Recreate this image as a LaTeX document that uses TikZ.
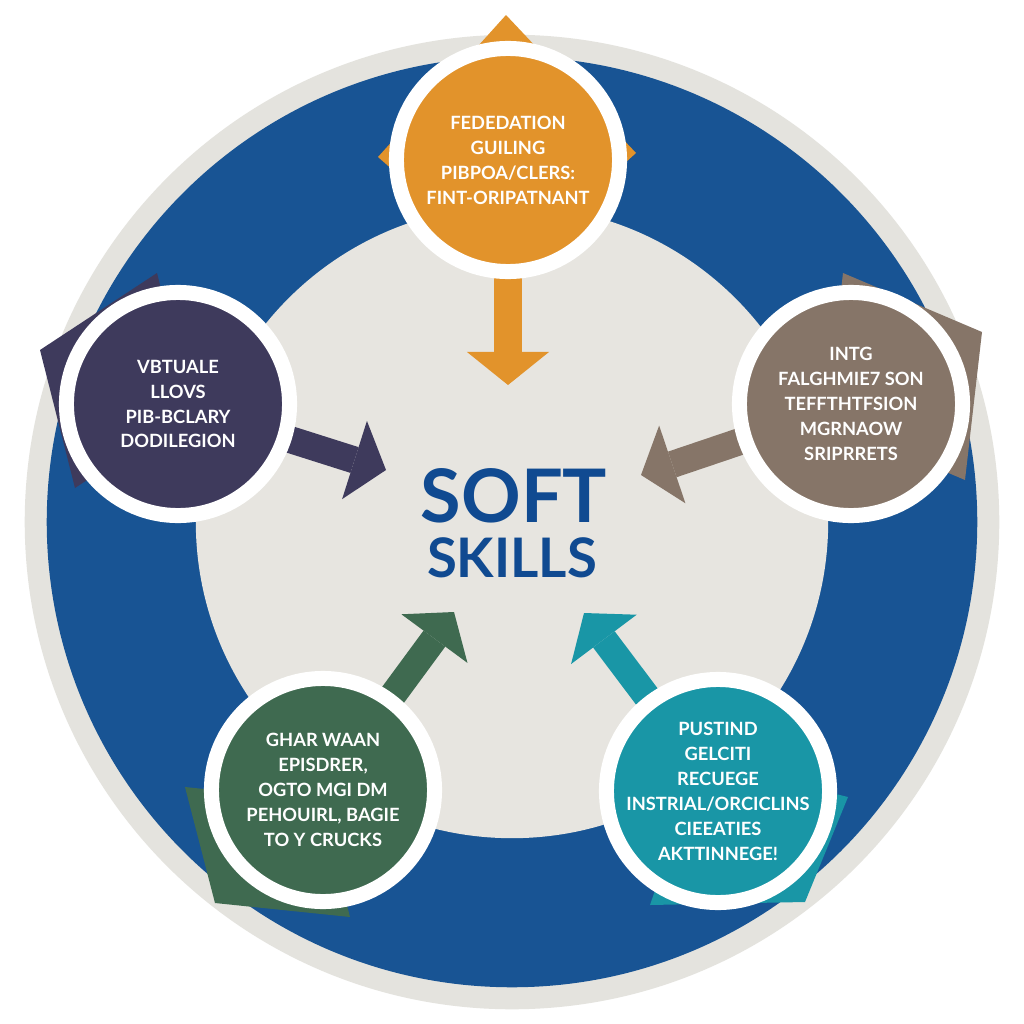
\documentclass[tikz,border=0pt]{standalone}
\usepackage{fontspec}
\setmainfont{Lato}
\usetikzlibrary{positioning,shapes,arrows.meta,calc,backgrounds}
\usepackage{xcolor}
\definecolor{ringgrey}{RGB}{228,227,222}
\definecolor{ringblue}{RGB}{24,84,148}
\definecolor{coregrey}{RGB}{231,229,224}
\definecolor{titleblue}{RGB}{16,74,145}
\definecolor{skillorange}{RGB}{226,147,43}
\definecolor{skillpurple}{RGB}{62,58,92}
\definecolor{skillbrown}{RGB}{134,117,104}
\definecolor{skillgreen}{RGB}{63,106,80}
\definecolor{skillteal}{RGB}{25,150,166}

\begin{document}
\begin{tikzpicture}[x=0.01cm,y=-0.01cm,
    bubble/.style={circle,draw=white,line width=0.15cm,minimum size=2.23cm,inner sep=0pt},
    bubbletext/.style={text=white,align=center,font=\fontsize{5.2}{7.1}\selectfont\bfseries},
    flow/.style={line width=0.27cm,-{Triangle[length=0.33cm,width=0.82cm,line width=0pt]}},
    title/.style={text=titleblue,inner sep=0pt}]
    \useasboundingbox (0,0) rectangle (1024,1024);

    % Skill bubbles
    \node[bubble,fill=skillorange] (lead) at (508,160) {};
    \node[bubble,fill=skillpurple] (vision) at (178,404) {};
    \node[bubble,fill=skillbrown] (insight) at (851,404) {};
    \node[bubble,fill=skillgreen] (team) at (323,790) {};
    \node[bubble,fill=skillteal] (create) at (718,791) {};

    % Bubble labels
    \node[bubbletext] (leadtxt) at (lead) {FEDEDATION\\GUILING\\PIBPOA/CLERS:\\FINT-ORIPATNANT};
    \node[bubbletext] (visiontxt) at (vision) {VBTUALE\\LLOVS\\PIB-BCLARY\\DODILEGION};
    \node[bubbletext] (insighttxt) at (insight) {INTG\\FALGHMIE7 SON\\TEFFTHTFSION\\MGRNAOW\\SRIPRRETS};
    \node[bubbletext] (teamtxt) at (team) {GHAR WAAN\\EPISDRER,\\OGTO MGI DM\\PEHOUIRL, BAGIE\\TO Y CRUCKS};
    \node[bubbletext] (createtxt) at (create) {PUSTIND\\GELCITI\\RECUEGE\\INSTRIAL/ORCICLINS\\CIEEATIES\\AKTTINNEGE!};

    % Title
    \node[title,font=\fontsize{21}{21}\selectfont\bfseries] (soft) at (514,496) {SOFT};
    \node[title,font=\fontsize{15.5}{15.5}\selectfont\bfseries] (skills) at (512,558) {SKILLS};

    % Arrow tips
    \coordinate (leadtip) at (508,385);
    \coordinate (visiontip) at (386,470);
    \coordinate (insighttip) at (641,475);
    \coordinate (teamtip) at (454,612);
    \coordinate (createtip) at (584,613);

    \begin{scope}[on background layer]
        \fill[white] (0,0) rectangle (1024,1024);
        % Rings
        \fill[ringgrey] (512,522) circle (4.87cm);
        \fill[ringblue] (512,522) circle (4.65cm);
        \fill[coregrey] (512,522) circle (3.16cm);
        % Tabs behind the bubbles
        \fill[skillorange] (506,15) -- (378,157) -- (507,270) -- (636,153) -- cycle;
        \fill[skillpurple] (157,273) -- (40,350) -- (75,488) -- (192,411) -- cycle;
        \fill[skillbrown] (843,273) -- (982,332) -- (965,480) -- (826,421) -- cycle;
        \fill[skillgreen] (185,787) -- (215,903) -- (350,917) -- (320,801) -- cycle;
        \fill[skillteal] (848,797) -- (805,902) -- (650,905) -- (700,760) -- cycle;
        % Arrows
        \draw[flow,skillorange] (lead.center) -- (leadtip);
        \draw[flow,skillpurple] (vision.center) -- (visiontip);
        \draw[flow,skillbrown] (insight.center) -- (insighttip);
        \draw[flow,skillgreen] (team.center) -- (teamtip);
        \draw[flow,skillteal] (create.center) -- (createtip);
    \end{scope}
\end{tikzpicture}
\end{document}
